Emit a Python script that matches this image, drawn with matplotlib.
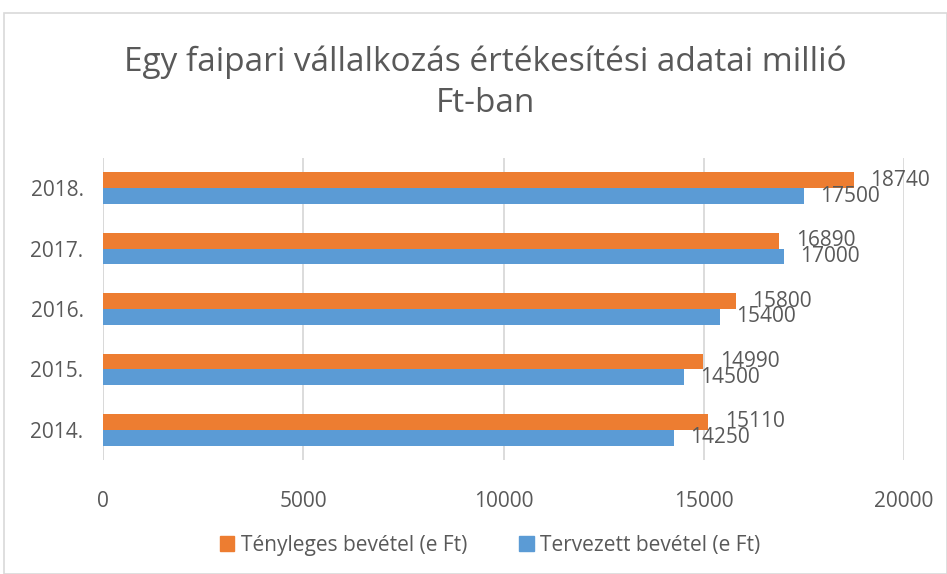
import matplotlib
matplotlib.use("Agg")

import matplotlib.pyplot as plt
import matplotlib.patches as mpatches
import numpy as np

# ── Data ──────────────────────────────────────────────────────────────
years = ["2014.", "2015.", "2016.", "2017.", "2018."]
tenyleges = [15110, 14990, 15800, 16890, 18740]
tervezett = [14250, 14500, 15400, 17000, 17500]
x_ticks = [0, 5000, 10000, 15000, 20000]

ORANGE = "#ED7D31"
BLUE = "#5B9BD5"
TEXT = "#595959"
GRID = "#D9D9D9"

plt.rcParams["font.family"] = ["Open Sans", "DejaVu Sans"]

W, H = 947, 574
fig = plt.figure(figsize=(W / 100, H / 100), dpi=100)
fig.patch.set_facecolor("white")

# chart frame
fig.patches.append(mpatches.Rectangle(
    (4 / W, 0), 1 - 4 / W, 1 - 13 / H, transform=fig.transFigure,
    fill=False, edgecolor="#D9D9D9", linewidth=1.2))

ax = fig.add_axes([103 / W, 1 - 460 / H, (904 - 103) / W, (460 - 158) / H])

y = np.arange(len(years))
h = 0.26
b_or = ax.barh(y + h / 2, tenyleges, height=h, color=ORANGE, zorder=3,
               label="Tényleges bevétel (e Ft)")
b_bl = ax.barh(y - h / 2, tervezett, height=h, color=BLUE, zorder=3,
               label="Tervezett bevétel (e Ft)")

ax.bar_label(b_or, labels=[str(v) for v in tenyleges], padding=12,
             fontsize=15, color=TEXT)
ax.bar_label(b_bl, labels=[str(v) for v in tervezett], padding=12,
             fontsize=15, color=TEXT)

ax.set_xlim(0, 20000)
ax.set_ylim(-0.5, 4.5)
ax.set_xticks(x_ticks)
ax.set_xticklabels([str(t) for t in x_ticks], fontsize=15, color=TEXT)
ax.set_yticks(y)
ax.set_yticklabels(years, fontsize=15, color=TEXT)
ax.tick_params(axis="both", length=0)
ax.tick_params(axis="x", pad=22)
ax.tick_params(axis="y", pad=14)
ax.grid(axis="x", color=GRID, linewidth=1.3, zorder=0)
for s in ax.spines.values():
    s.set_visible(False)
ax.axvline(0, color=GRID, linewidth=1.3, zorder=1)

fig.text(485 / W, 1 - 62 / H, "Egy faipari vállalkozás értékesítési adatai millió",
         ha="center", va="center", fontsize=24, color=TEXT)
fig.text(485 / W, 1 - 103 / H, "Ft-ban",
         ha="center", va="center", fontsize=24, color=TEXT)

handles = [mpatches.Patch(color=ORANGE), mpatches.Patch(color=BLUE)]
fig.legend(handles, ["Tényleges bevétel (e Ft)", "Tervezett bevétel (e Ft)"],
           loc="center", bbox_to_anchor=(490 / W, 1 - 545 / H), ncol=2,
           frameon=False, fontsize=15, labelcolor=TEXT,
           handlelength=0.7, handleheight=0.7, handletextpad=0.3,
           columnspacing=2.5)

fig.savefig("out.png", dpi=100, facecolor="white")
